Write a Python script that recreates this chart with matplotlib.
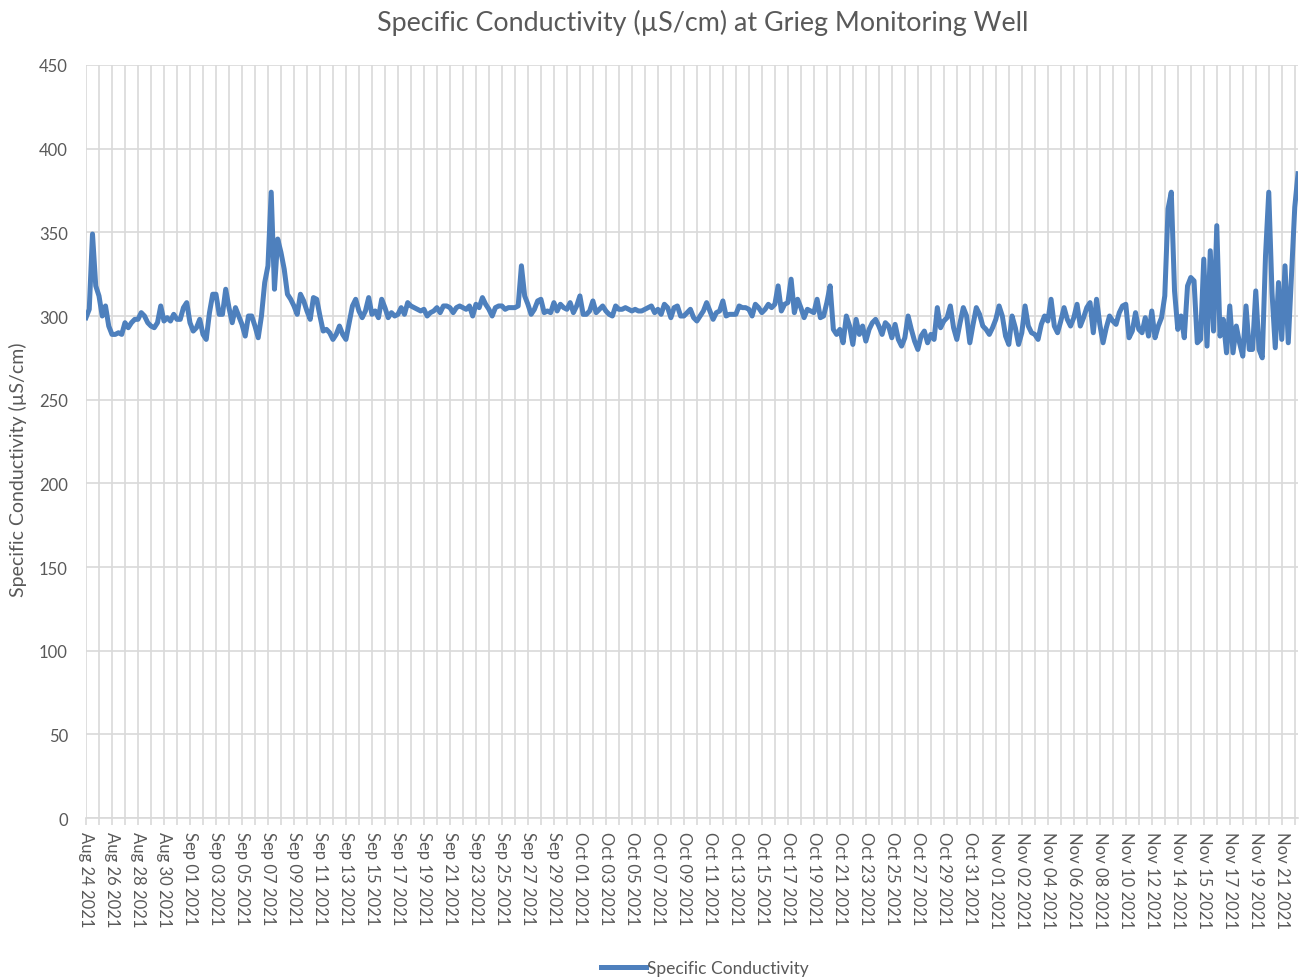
import matplotlib
matplotlib.use("Agg")
import matplotlib.pyplot as plt
from matplotlib.lines import Line2D

# Readings, evenly spaced in sample order (category axis like the source sheet)
conductivity = [
    299, 304, 349, 318, 312, 300, 306, 294, 289, 289,
    290, 289, 296, 293, 296, 298, 298, 302, 300, 296,
    294, 293, 296, 306, 297, 299, 297, 301, 298, 298,
    305, 308, 296, 291, 293, 298, 289, 286, 302, 313,
    313, 301, 301, 316, 305, 296, 305, 300, 295, 288,
    300, 300, 294, 287, 300, 320, 330, 374, 316, 346,
    338, 328, 313, 310, 306, 301, 313, 309, 303, 298,
    311, 310, 300, 291, 292, 290, 286, 289, 294, 289,
    286, 296, 306, 310, 303, 299, 303, 311, 301, 303,
    299, 310, 305, 299, 302, 300, 301, 305, 301, 308,
    306, 305, 304, 303, 304, 300, 302, 303, 305, 302,
    306, 306, 305, 302, 305, 306, 305, 304, 306, 300,
    307, 305, 311, 307, 304, 300, 305, 306, 306, 304,
    305, 305, 305, 306, 330, 312, 307, 301, 304, 309,
    310, 302, 303, 302, 308, 303, 307, 305, 304, 308,
    302, 306, 312, 301, 301, 303, 309, 302, 304, 306,
    303, 301, 300, 306, 304, 304, 305, 304, 303, 304,
    303, 303, 304, 305, 306, 302, 304, 301, 307, 305,
    299, 305, 306, 300, 300, 302, 304, 299, 297, 300,
    303, 308, 303, 298, 302, 303, 309, 300, 301, 301,
    301, 306, 305, 305, 304, 300, 307, 305, 302, 304,
    307, 305, 307, 318, 303, 307, 308, 322, 302, 310,
    305, 299, 304, 303, 302, 310, 299, 300, 308, 318,
    292, 289, 292, 284, 300, 294, 283, 298, 289, 294,
    285, 292, 296, 298, 294, 289, 296, 294, 287, 295,
    286, 282, 287, 300, 292, 285, 280, 288, 291, 284,
    289, 286, 305, 293, 297, 299, 306, 293, 286, 296,
    305, 300, 284, 295, 305, 301, 294, 292, 289, 293,
    298, 306, 300, 288, 283, 300, 293, 283, 290, 306,
    294, 290, 289, 286, 295, 300, 297, 310, 294, 290,
    297, 305, 298, 294, 299, 307, 294, 299, 305, 308,
    290, 310, 295, 284, 293, 300, 297, 295, 302, 306,
    307, 287, 291, 302, 292, 290, 299, 288, 303, 287,
    294, 299, 312, 364, 374, 315, 292, 300, 287, 318,
    323, 321, 284, 286, 334, 282, 339, 291, 354, 288,
    298, 278, 306, 278, 294, 284, 276, 306, 280, 280,
    315, 280, 275, 336, 374, 314, 281, 320, 286, 330,
    284, 325, 365, 385,
]

date_labels = [
    "Aug 24 2021", "Aug 26 2021", "Aug 28 2021", "Aug 30 2021",
    "Sep 01 2021", "Sep 03 2021", "Sep 05 2021", "Sep 07 2021", "Sep 09 2021",
    "Sep 11 2021", "Sep 13 2021", "Sep 15 2021", "Sep 17 2021", "Sep 19 2021",
    "Sep 21 2021", "Sep 23 2021", "Sep 25 2021", "Sep 27 2021", "Sep 29 2021",
    "Oct 01 2021", "Oct 03 2021", "Oct 05 2021", "Oct 07 2021", "Oct 09 2021",
    "Oct 11 2021", "Oct 13 2021", "Oct 15 2021", "Oct 17 2021", "Oct 19 2021",
    "Oct 21 2021", "Oct 23 2021", "Oct 25 2021", "Oct 27 2021", "Oct 29 2021",
    "Oct 31 2021", "Nov 01 2021", "Nov 02 2021", "Nov 04 2021", "Nov 06 2021",
    "Nov 08 2021", "Nov 10 2021", "Nov 12 2021", "Nov 14 2021", "Nov 15 2021",
    "Nov 17 2021", "Nov 19 2021", "Nov 21 2021",
]
y_ticks = [0, 50, 100, 150, 200, 250, 300, 350, 400, 450]

plt.rcParams['font.family'] = ['Lato', 'DejaVu Sans']
text_grey = '#595959'
grid_grey = '#d9d9d9'
line_blue = '#4e80bd'

fig = plt.figure(figsize=(13.01, 9.79), dpi=100)
ax = fig.add_axes([0.0661, 0.1634, 0.9316, 0.7692])

x = list(range(len(conductivity)))
ax.plot(x, conductivity, color=line_blue, lw=3.6, solid_joinstyle='round')

# gridline every 4 samples, a date label on every other one
step = 4
tick_pos = list(range(0, len(conductivity), step))
tick_lab = []
for k in range(len(tick_pos)):
    if k % 2 == 0 and k // 2 < len(date_labels):
        tick_lab.append(date_labels[k // 2])
    else:
        tick_lab.append('')
ax.set_xticks(tick_pos)
ax.set_xticklabels(tick_lab, rotation=-90, ha='center', va='top',
                   fontsize=12, color=text_grey)
ax.set_xlim(0, len(conductivity) - 1)

ax.set_ylim(0, 450)
ax.set_yticks(y_ticks)
ax.set_yticklabels([str(v) for v in y_ticks], fontsize=12, color=text_grey)

ax.grid(True, color=grid_grey, lw=1.2)
ax.set_axisbelow(True)
ax.tick_params(axis='x', length=5, width=1.2, color=grid_grey, pad=4)
ax.tick_params(axis='y', length=0, pad=13)
for side in ['top', 'right', 'left']:
    ax.spines[side].set_visible(False)
ax.spines['bottom'].set_color(grid_grey)
ax.spines['bottom'].set_linewidth(1.2)

fig.text(0.540, 0.977, 'Specific Conductivity (µS/cm) at Grieg Monitoring Well',
         ha='center', va='center', fontsize=19.4, color=text_grey)
fig.text(0.014, 1 - 470 / 979, 'Specific Conductivity (µS/cm)', rotation=90,
         ha='center', va='center', fontsize=14, color=text_grey)

handle = Line2D([0], [0], color=line_blue, lw=3.6)
fig.legend([handle], ['Specific Conductivity'], loc='center',
           bbox_to_anchor=(0.542, 1 - 969 / 979), frameon=False,
           fontsize=12.5, labelcolor=text_grey, handlelength=2.6, handletextpad=0.05)

fig.savefig('out.png', dpi=100)
